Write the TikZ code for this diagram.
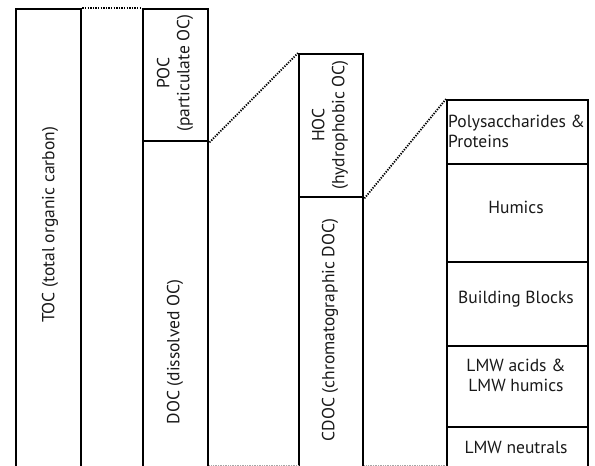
\documentclass[tikz,border=0pt]{standalone}
\usepackage{fontspec}
\setmainfont{PT Sans}
\begin{document}
\begin{tikzpicture}[x=1pt,y=-1pt,
  box/.style={draw=black,line width=2.4pt,rectangle,anchor=north west,inner sep=0pt,minimum width=#1},
  lbl/.style={font=\fontsize{17.5}{20}\selectfont,align=center,inner sep=0pt,text=black!90},
  vlbl/.style={lbl,rotate=90},
  link/.style={line width=1.8pt,dash pattern=on 1.3pt off 1.3pt},
  faint/.style={line width=0.7pt,densely dotted,gray!70}]
\useasboundingbox (0,0) rectangle (595,466);
\clip (0,0) rectangle (595,466);
% columns
\node[box=65pt,minimum height=470pt] (toc) at (15,8) {};
\node[box=65pt,minimum height=132pt] (poc) at (142,8) {};
\node[box=65pt,minimum height=330pt] (doc) at (142,140) {};
\node[box=64pt,minimum height=143pt] (hoc) at (298,53) {};
\node[box=64pt,minimum height=280pt] (cdoc) at (298,196) {};
\node[box=141pt,minimum height=64pt] (ps) at (446,99) {};
\node[box=141pt,minimum height=98pt] (hum) at (446,163) {};
\node[box=141pt,minimum height=84pt] (bb) at (446,261) {};
\node[box=141pt,minimum height=81pt] (lmwa) at (446,345) {};
\node[box=141pt,minimum height=50pt] (lmwn) at (446,426) {};
% labels
\node[vlbl] (ttoc) at (50,225) {TOC (total organic carbon)};
\node[vlbl] (tpoc) at (175,73) {POC\\(particulate OC)};
\node[vlbl] (tdoc) at (175,352) {DOC (dissolved OC)};
\node[vlbl] (thoc) at (330,125) {HOC\\(hydrophobic OC)};
\node[vlbl] (tcdoc) at (330,330) {CDOC (chromatographic DOC)};
\node[lbl,align=left,anchor=west] (tps) at (448,131) {Polysaccharides \&\\Proteins};
\node[lbl] (thum) at (516,207) {Humics};
\node[lbl] (tbb) at (516,299) {Building Blocks};
\node[lbl] (tlmwa) at (516,375) {LMW acids \&\\LMW humics};
\node[lbl] (tlmwn) at (516,447) {LMW neutrals};
% connectors
\draw[link] (toc.north east) -- (poc.north west);
\draw[link] (poc.south east) -- (hoc.north west);
\draw[link] (hoc.south east) -- (ps.north west);
\coordinate (bot) at (0,465);
\draw[faint] (doc.east |- bot) -- (cdoc.west |- bot);
\draw[faint] (cdoc.east |- bot) -- (lmwn.west |- bot);
\end{tikzpicture}
\end{document}
